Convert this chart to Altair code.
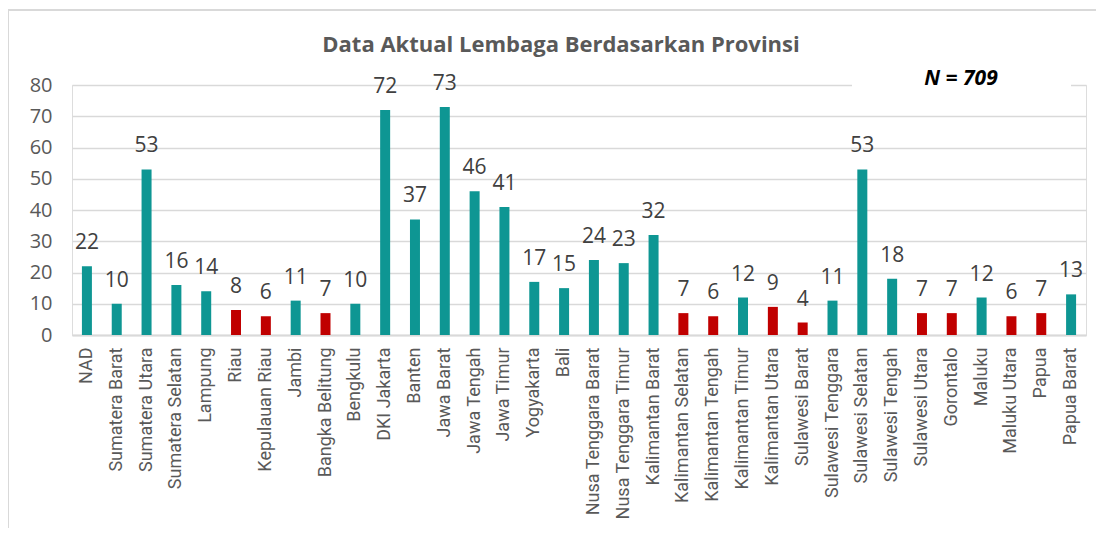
import altair as alt
import pandas as pd

provinces = ["NAD", "Sumatera Barat", "Sumatera Utara", "Sumatera Selatan", "Lampung", "Riau",
             "Kepulauan Riau", "Jambi", "Bangka Belitung", "Bengkulu", "DKI Jakarta", "Banten",
             "Jawa Barat", "Jawa Tengah", "Jawa Timur", "Yogyakarta", "Bali",
             "Nusa Tenggara Barat", "Nusa Tenggara Timur", "Kalimantan Barat", "Kalimantan Selatan",
             "Kalimantan Tengah", "Kalimantan Timur", "Kalimantan Utara", "Sulawesi Barat",
             "Sulawesi Tenggara", "Sulawesi Selatan", "Sulawesi Tengah", "Sulawesi Utara",
             "Gorontalo", "Maluku", "Maluku Utara", "Papua", "Papua Barat"]
values = [22, 10, 53, 16, 14, 8, 6, 11, 7, 10, 72, 37, 73, 46, 41, 17, 15,
          24, 23, 32, 7, 6, 12, 9, 4, 11, 53, 18, 7, 7, 12, 6, 7, 13]
groups = ["low" if v < 10 else "high" for v in values]
title_text = ["Data Aktual Lembaga Berdasarkan Provinsi"]
note_text = ["N = 709"]

df = pd.DataFrame({"prov": provinces, "val": values, "grp": groups})

W, H = 1014, 250

base = alt.Chart(df).encode(
    x=alt.X("prov:N", sort=None, title=None,
            scale=alt.Scale(paddingInner=0.0, paddingOuter=0.0),
            axis=alt.Axis(labelAngle=-90, labelFont="Roboto",
                          labelFontSize=18, labelColor="#595959", labelPadding=12, ticks=False,
                          domainColor="#d9d9d9", domainWidth=2, labelAlign="right",
                          labelBaseline="middle", labelOverlap=False, labelLimit=0)),
    y=alt.Y("val:Q", title=None, scale=alt.Scale(domain=[0, 80], nice=False),
            axis=alt.Axis(values=[0, 10, 20, 30, 40, 50, 60, 70, 80], labelFont="Open Sans",
                          labelFontSize=20, labelColor="#595959", labelPadding=20,
                          ticks=False, domain=False, gridColor="#d9d9d9", gridWidth=1.5)),
)

bars = base.mark_bar(width=10).encode(
    color=alt.Color("grp:N", scale=alt.Scale(domain=["high", "low"], range=["#0e9693", "#c00000"]),
                    legend=None)
)

labels = base.mark_text(baseline="bottom", dy=-13, font="Open Sans", fontSize=21,
                        color="#404040").encode(text="val:Q")

frame_left = alt.Chart(df).mark_rule(color="#d9d9d9", strokeWidth=2).encode(
    x=alt.value(-64), y=alt.value(-75), y2=alt.value(470))
frame_top = alt.Chart(df).mark_rule(color="#d9d9d9", strokeWidth=2).encode(
    x=alt.value(-64), x2=alt.value(1050), y=alt.value(-75))

title = alt.Chart(pd.DataFrame({"t": title_text})).mark_text(
    font="Open Sans", fontSize=22, fontWeight="bold", color="#595959", baseline="middle"
).encode(x=alt.value(489), y=alt.value(-40), text="t:N")

nbox = alt.Chart(df).mark_rect(color="white").encode(
    x=alt.value(780), x2=alt.value(999), y=alt.value(-7), y2=alt.value(28))
ntext = alt.Chart(pd.DataFrame({"t": note_text})).mark_text(
    font="Open Sans", fontSize=21, fontWeight="bold", fontStyle="italic", color="black",
    baseline="middle"
).encode(x=alt.value(889), y=alt.value(-6), text="t:N")

chart = alt.layer(frame_left, frame_top, bars, labels, title, nbox, ntext).properties(
    width=W, height=H,
    autosize=alt.AutoSizeParams(type="none"),
    padding={"left": 64, "top": 77, "right": 10, "bottom": 193},
).configure_view(stroke=None).configure(background="white")

chart.save("out.html", embed_options={"renderer": "svg", "actions": False})
